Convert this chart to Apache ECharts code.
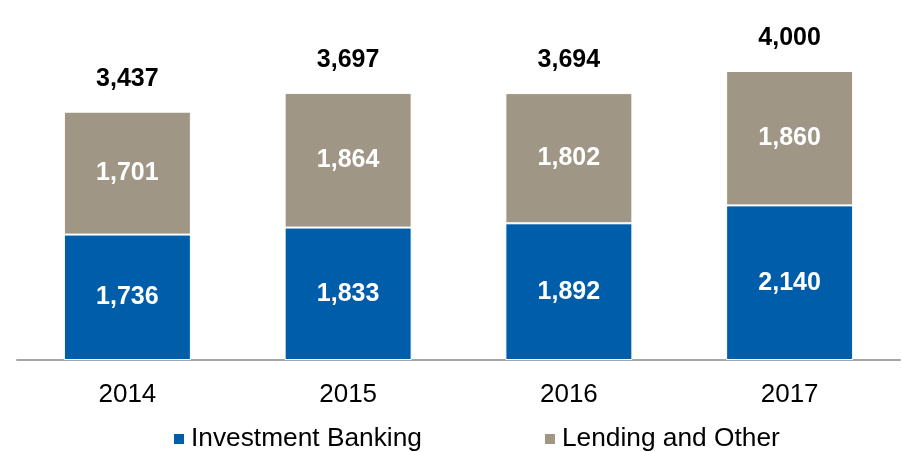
<!DOCTYPE html>
<html>
<head>
<meta charset="utf-8">
<style>
  html, body { margin: 0; padding: 0; background: #fff; }
  #chart { width: 902px; height: 452px; }
</style>
<script src="https://cdn.jsdelivr.net/npm/echarts@6/dist/echarts.min.js"></script>
</head>
<body>
<div id="chart"></div>
<script>
// Revenue by segment per year
const years = ['2014', '2015', '2016', '2017'];
const investmentBanking = [1736, 1833, 1892, 2140];
const lendingAndOther = [1701, 1864, 1802, 1860];
const totals = [3437, 3697, 3694, 4000];

const FONT = '"Liberation Sans", Arial, sans-serif';
const fmt = v => v.toLocaleString('en-US');

const chart = echarts.init(document.getElementById('chart'));
chart.setOption({
  animation: false,
  grid: { left: 17, right: 2, top: 71, bottom: 92 },
  legend: {
    data: ['Investment Banking', 'Lending and Other'],
    top: 421,
    left: 167,
    itemWidth: 12,
    itemHeight: 12,
    itemGap: 121,
    icon: 'rect',
    textStyle: { fontFamily: FONT, fontSize: 26.3, color: '#000', padding: [0, 0, 0, 1] }
  },
  xAxis: {
    type: 'category',
    data: years,
    axisLine: { lineStyle: { color: '#a6a6a6', width: 2 } },
    axisTick: { show: false },
    axisLabel: { fontFamily: FONT, fontSize: 26, color: '#000', margin: 22 }
  },
  yAxis: {
    type: 'value',
    min: 0,
    max: 4000,
    show: false,
    splitLine: { show: false }
  },
  series: [
    {
      name: 'Investment Banking',
      type: 'bar',
      stack: 'rev',
      barWidth: 127,
      data: investmentBanking,
      itemStyle: { color: '#005DAA', borderColor: '#fff', borderWidth: 1 },
      label: {
        show: true, position: 'inside', color: '#fff',
        fontFamily: FONT, fontSize: 25, fontWeight: 'bold',
        formatter: p => fmt(p.value)
      }
    },
    {
      name: 'Lending and Other',
      type: 'bar',
      stack: 'rev',
      barWidth: 127,
      data: lendingAndOther,
      itemStyle: { color: '#A09686', borderColor: '#fff', borderWidth: 1 },
      label: {
        show: true, position: 'inside', color: '#fff',
        fontFamily: FONT, fontSize: 25, fontWeight: 'bold',
        formatter: p => fmt(p.value)
      }
    },
    {
      name: 'Total',
      type: 'bar',
      stack: 'rev',
      barWidth: 127,
      data: totals.map(() => 0),
      itemStyle: { color: 'transparent' },
      label: {
        show: true, position: 'top', distance: 20, color: '#000',
        fontFamily: FONT, fontSize: 25, fontWeight: 'bold',
        formatter: p => fmt(totals[p.dataIndex])
      }
    }
  ]
});
</script>
</body>
</html>
